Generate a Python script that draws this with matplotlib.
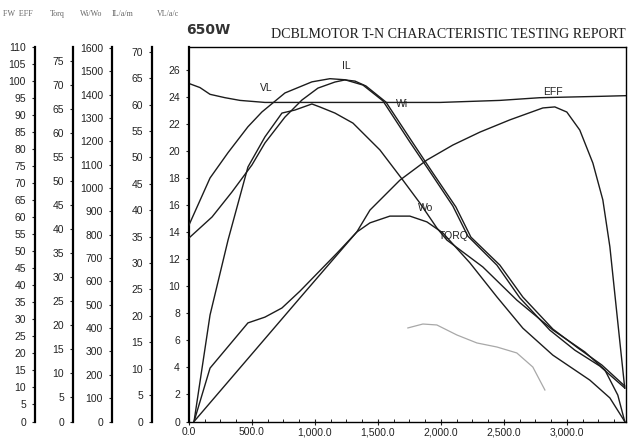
import matplotlib
matplotlib.use("Agg")
import matplotlib.pyplot as plt
from matplotlib.ticker import FuncFormatter, MultipleLocator, AutoMinorLocator

plt.rcParams['font.family'] = ['Liberation Sans', 'DejaVu Sans']

# speed axis shared by all curves
x_max = 3470

# VL  (main scale, V)
vl_x = [0, 87, 167, 286, 405, 603, 881, 1992, 2468, 2786, 3262, 3468]
vl_y = [25.0, 24.7, 24.2, 23.95, 23.75, 23.6, 23.6, 23.6, 23.75, 23.95, 24.05, 24.1]

# IL  (A)
il_x = [0, 167, 310, 468, 579, 762, 976, 1119, 1238, 1381, 1540, 1754, 1913,
        2095, 2214, 2445, 2627, 2865, 3064, 3262, 3460]
il_y = [37.2, 46.1, 50.9, 55.8, 58.6, 62.2, 64.3, 64.9, 64.7, 63.7, 60.7, 52.9, 47.3,
        40.8, 35.1, 29.6, 23.4, 17.3, 13.5, 10.5, 6.35]

# Wi  (W)
wi_x = [0, 183, 341, 500, 603, 762, 897, 1024, 1159, 1238, 1318, 1405, 1564, 1778,
        1937, 2119, 2238, 2468, 2651, 2889, 3088, 3278, 3460]
wi_y = [786, 876, 983, 1099, 1193, 1304, 1377, 1428, 1454, 1463, 1458, 1437, 1368, 1193,
        1064, 919, 790, 670, 533, 396, 315, 242, 152]

# Wo  (W)
wo_x = [40, 167, 310, 468, 603, 738, 841, 976, 1040, 1159, 1302, 1516, 1698, 1833,
        1968, 2048, 2333, 2603, 2889, 3143, 3302, 3405, 3460]
wo_y = [0, 456, 777, 1090, 1219, 1321, 1334, 1360, 1347, 1321, 1278, 1163, 1034, 936,
        829, 777, 662, 520, 392, 298, 221, 113, 0]

# TORQ
tq_x = [40, 167, 468, 603, 738, 881, 1175, 1333, 1437, 1595, 1754, 1889, 2016,
        2230, 2445, 2651, 2889, 3183, 3342, 3460]
tq_y = [0, 11.1, 20.5, 21.7, 23.6, 27.1, 35.0, 39.4, 41.3, 42.7, 42.7, 41.5, 39.2,
        33.0, 25.9, 19.4, 13.8, 8.6, 4.9, 0]

# EFF (%)
ef_x = [40, 881, 1333, 1437, 1675, 1889, 2095, 2310, 2548, 2810, 2905, 3000, 3103,
        3207, 3286, 3342, 3397, 3460]
ef_y = [0, 36.3, 55.7, 62.1, 70.9, 76.8, 81.2, 85.0, 88.6, 92.1, 92.4, 90.9, 85.6,
        75.9, 65.1, 51.3, 31.9, 9.8]

# faint trace left on the sheet (main scale)
gh_x = [1738, 1857, 1968, 2127, 2286, 2445, 2603, 2730, 2826]
gh_y = [6.92, 7.21, 7.14, 6.40, 5.81, 5.51, 5.07, 4.03, 2.33]

# curve labels (x, main-scale y)
labels = [("VL", 611, 24.7), ("IL", 1246, 26.3), ("Wi", 1690, 23.45),
          ("EFF", 2889, 24.4), ("Wo", 1881, 15.8), ("TORQ", 2103, 13.7)]

fig = plt.figure(figsize=(6.4, 4.38), dpi=100)
ax = fig.add_axes([189 / 640, 1 - 421.5 / 438, 437 / 640, 374.5 / 438])

line_kw = dict(color='#1c1c1c', lw=1.0)
tick_kw = dict(labelsize=7.5, length=2.5, width=0.8, pad=4, colors='#222222')

ax.set_xlim(0, x_max)
ax.set_ylim(0, 27.7)
ax.yaxis.set_major_locator(MultipleLocator(2))
ax.xaxis.set_major_locator(MultipleLocator(500))
ax.xaxis.set_minor_locator(AutoMinorLocator(4))
ax.xaxis.set_major_formatter(FuncFormatter(lambda v, p: f"{v:,.1f}"))
ax.tick_params(axis='both', **tick_kw)
ax.tick_params(axis='x', direction='inout', length=4, pad=2)
ax.tick_params(axis='x', which='minor', direction='in', length=2)
for s in ax.spines.values():
    s.set_linewidth(1.0)
ax.spines['left'].set_linewidth(1.6)

ax.plot(vl_x, vl_y, **line_kw)
ax.plot(gh_x, gh_y, color='#a8a8a8', lw=0.9)
for txt, lx, ly in labels:
    ax.text(lx, ly, txt, fontsize=7.5, ha='center', va='center', color='#222222')


def side_axis(pos, top, step):
    a = ax.twinx()
    a.set_ylim(0, top)
    a.yaxis.set_major_locator(MultipleLocator(step))
    a.yaxis.set_ticks_position('left')
    a.spines['left'].set_position(('axes', pos))
    a.spines['left'].set_visible(True)
    a.spines['left'].set_linewidth(1.6)
    for k in ('right', 'top', 'bottom'):
        a.spines[k].set_visible(False)
    a.tick_params(axis='y', **tick_kw)
    return a


ax_eff = side_axis(-0.3524, 110, 5)
ax_tq = side_axis(-0.2654, 77.86, 5)
ax_w = side_axis(-0.1762, 1604, 100)
ax_il = side_axis(-0.0847, 70.9, 5)

ax_il.plot(il_x, il_y, **line_kw)
ax_w.plot(wi_x, wi_y, **line_kw)
ax_w.plot(wo_x, wo_y, **line_kw)
ax_tq.plot(tq_x, tq_y, **line_kw)
ax_eff.plot(ef_x, ef_y, **line_kw)

# header texts
hdr_kw = dict(fontsize=5.8, family='Liberation Serif', color='#666666', va='center')
fig.text(3 / 640, 1 - 14 / 438, "FW  EFF", **hdr_kw)
fig.text(50 / 640, 1 - 14 / 438, "Torq", **hdr_kw)
fig.text(80 / 640, 1 - 14 / 438, "Wi/Wo", **hdr_kw)
fig.text(112 / 640, 1 - 14 / 438, "IL/a/m", **hdr_kw)
fig.text(157 / 640, 1 - 14 / 438, "VL/a/c", **hdr_kw)

fig.text(186 / 640, 1 - 30 / 438, "650W", fontsize=10, family='DejaVu Sans',
         weight='bold', color='#333333', va='center')
fig.text(626 / 640, 1 - 35 / 438, "DCBLMOTOR T-N CHARACTERISTIC TESTING REPORT",
         fontsize=10.1, family='Liberation Serif', color='#222222',
         ha='right', va='center')

fig.savefig("out.png", dpi=100)
